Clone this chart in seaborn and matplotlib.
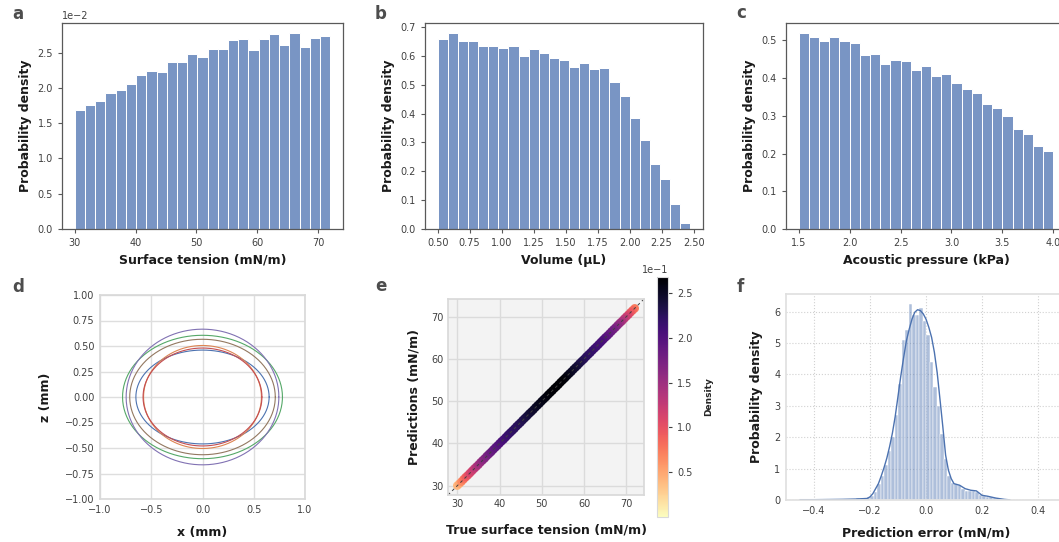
import numpy as np
import matplotlib
matplotlib.use("Agg")
import matplotlib.pyplot as plt
import seaborn as sns
from matplotlib.ticker import ScalarFormatter, MultipleLocator
import matplotlib as mpl

# ---------------- data ----------------
# a: surface tension histogram (density per bin)
surface_tension_range = (30.0, 72.0)
surface_tension_density = [0.0168, 0.0175, 0.0182, 0.0193, 0.0197, 0.0205, 0.0218, 0.0224,
                           0.0223, 0.0237, 0.0237, 0.0248, 0.0244, 0.0255, 0.0255, 0.0268,
                           0.0269, 0.0254, 0.0269, 0.0277, 0.0261, 0.0278, 0.0258, 0.0271, 0.0274]
# b: volume histogram
volume_range = (0.5, 2.475)
volume_density = [0.660, 0.680, 0.650, 0.652, 0.635, 0.635, 0.627, 0.633, 0.600, 0.625,
                  0.610, 0.593, 0.585, 0.560, 0.575, 0.555, 0.558, 0.510, 0.462, 0.383,
                  0.310, 0.226, 0.173, 0.088, 0.021]
# c: acoustic pressure histogram
pressure_range = (1.5, 4.0)
pressure_density = [0.520, 0.508, 0.498, 0.508, 0.497, 0.493, 0.462, 0.463, 0.438, 0.448,
                    0.445, 0.422, 0.433, 0.406, 0.412, 0.387, 0.372, 0.360, 0.330, 0.320,
                    0.300, 0.265, 0.251, 0.219, 0.207]
# d: drop contours (semi-axes in mm)
drop_semi_x = [0.650, 0.575, 0.780, 0.580, 0.745, 0.710]
drop_semi_z = [0.460, 0.505, 0.605, 0.480, 0.665, 0.566]
drop_colors = ["#4c72b0", "#dd8452", "#55a868", "#c44e52", "#8172b3", "#937860"]
# e: predictions vs true with point density
true_tension = [30.0, 30.5, 31.0, 31.5, 32.0, 32.5, 33.0, 33.5, 34.0, 34.5,
                35.0, 35.5, 36.0, 36.5, 37.0, 37.5, 38.0, 38.5, 39.0, 39.5,
                40.0, 40.5, 41.0, 41.5, 42.0, 42.5, 43.0, 43.5, 44.0, 44.5,
                45.0, 45.5, 46.0, 46.5, 47.0, 47.5, 48.0, 48.5, 49.0, 49.5,
                50.0, 50.5, 51.0, 51.5, 52.0, 52.5, 53.0, 53.5, 54.0, 54.5,
                55.0, 55.5, 56.0, 56.5, 57.0, 57.5, 58.0, 58.5, 59.0, 59.5,
                60.0, 60.5, 61.0, 61.5, 62.0, 62.5, 63.0, 63.5, 64.0, 64.5,
                65.0, 65.5, 66.0, 66.5, 67.0, 67.5, 68.0, 68.5, 69.0, 69.5,
                70.0, 70.5, 71.0, 71.5, 72.0]
pred_tension = [30.02, 30.49, 30.98, 31.52, 32.03, 32.48, 32.99, 33.51, 34.02, 34.49,
                34.97, 35.52, 36.01, 36.48, 37.03, 37.51, 37.98, 38.52, 39.02, 39.49,
                40.01, 40.52, 40.97, 41.49, 42.02, 42.51, 42.99, 43.48, 44.03, 44.51,
                44.98, 45.52, 46.01, 46.49, 47.02, 47.48, 47.97, 48.52, 49.01, 49.49,
                50.02, 50.51, 50.98, 51.52, 52.01, 52.49, 53.03, 53.48, 53.98, 54.52,
                55.01, 55.49, 56.02, 56.51, 56.98, 57.52, 58.01, 58.48, 59.02, 59.51,
                59.97, 60.52, 61.01, 61.48, 62.02, 62.51, 62.98, 63.49, 64.01, 64.52,
                65.03, 65.48, 65.98, 66.51, 67.01, 67.49, 68.02, 68.52, 68.97, 69.51,
                70.01, 70.49, 71.02, 71.51, 71.98]
point_density = [0.040, 0.050, 0.065, 0.078, 0.090, 0.100, 0.110, 0.118, 0.125, 0.135,
                 0.145, 0.152, 0.160, 0.166, 0.172, 0.178, 0.184, 0.188, 0.192, 0.196,
                 0.200, 0.204, 0.208, 0.212, 0.215, 0.218, 0.220, 0.222, 0.224, 0.226,
                 0.228, 0.230, 0.233, 0.236, 0.239, 0.242, 0.245, 0.248, 0.251, 0.254,
                 0.256, 0.258, 0.260, 0.262, 0.264, 0.265, 0.266, 0.267, 0.266, 0.265,
                 0.263, 0.260, 0.256, 0.252, 0.248, 0.244, 0.240, 0.236, 0.232, 0.228,
                 0.225, 0.222, 0.220, 0.218, 0.215, 0.212, 0.210, 0.208, 0.205, 0.202,
                 0.195, 0.190, 0.185, 0.180, 0.175, 0.168, 0.160, 0.150, 0.140, 0.130,
                 0.120, 0.108, 0.095, 0.085, 0.075]
density_max = 0.268
# f: prediction error histogram + kde
error_range = (-0.45, 0.30)
error_density = [0.01, 0.01, 0.02, 0.01, 0.01, 0.02, 0.02, 0.01, 0.02, 0.02,
                 0.03, 0.02, 0.03, 0.03, 0.04, 0.04, 0.05, 0.05, 0.06, 0.08,
                 0.12, 0.25, 0.50, 0.75, 1.10, 1.55, 2.00, 2.70, 3.70, 5.10,
                 5.40, 6.25, 5.90, 5.90, 6.10, 5.70, 5.25, 4.40, 3.60, 3.00,
                 2.10, 1.30, 0.75, 0.55, 0.52, 0.48, 0.35, 0.30, 0.28, 0.28,
                 0.25, 0.15, 0.12, 0.10, 0.08, 0.06, 0.04, 0.03, 0.02, 0.01]
kde_x = [-0.45, -0.40, -0.35, -0.30, -0.25, -0.21, -0.20, -0.19, -0.18, -0.17, -0.16, -0.15,
         -0.14, -0.13, -0.12, -0.11, -0.10, -0.09, -0.08, -0.07, -0.06, -0.05, -0.04, -0.03,
         -0.02, -0.01, 0.00, 0.01, 0.02, 0.03, 0.04, 0.05, 0.06, 0.07, 0.08, 0.09, 0.10,
         0.12, 0.14, 0.16, 0.18, 0.19, 0.20, 0.22, 0.25, 0.28, 0.30]
kde_y = [0.01, 0.01, 0.015, 0.02, 0.03, 0.05, 0.10, 0.20, 0.36, 0.52, 0.76, 1.03,
         1.33, 1.70, 2.13, 2.66, 3.30, 3.95, 4.53, 5.07, 5.44, 5.76, 5.98, 6.06,
         6.03, 5.93, 5.76, 5.50, 5.18, 4.70, 4.05, 3.20, 2.34, 1.43, 0.95, 0.68, 0.52,
         0.47, 0.36, 0.31, 0.29, 0.22, 0.15, 0.12, 0.06, 0.02, 0.005]

# ---------------- style ----------------
sns.set_theme(style="ticks")
plt.rcParams["font.family"] = ["DejaVu Sans"]
W, H = 1059, 542
TICK = 7
LAB = 9
BLUE = "#4c72b0"

fig = plt.figure(figsize=(W / 100, H / 100), dpi=100)


def box(l, t, r, b):
    return [l / W, 1 - b / H, (r - l) / W, (b - t) / H]


hist_style = {"axes.edgecolor": "0.35", "xtick.color": "0.35", "ytick.color": "0.35",
              "text.color": "0.2", "axes.labelcolor": "0.1"}


def bin_centers(rng, n):
    edges = np.linspace(rng[0], rng[1], n + 1)
    return list((edges[:-1] + edges[1:]) / 2)


def hist_panel(rect, rng, dens, xlabel):
    with sns.axes_style("ticks", hist_style):
        ax = fig.add_axes(rect)
    n = len(dens)
    sns.histplot(x=bin_centers(rng, n), weights=list(dens), bins=n, binrange=rng,
                 color=BLUE, ax=ax)
    ax.set_xlabel(xlabel, fontsize=LAB, fontweight="bold")
    ax.set_ylabel("Probability density", fontsize=LAB, fontweight="bold")
    ax.tick_params(labelsize=TICK, labelcolor="0.25", length=3, width=0.8)
    for s in ax.spines.values():
        s.set_linewidth(0.9)
    return ax


ax_a = hist_panel(box(62, 23, 343, 229), surface_tension_range, surface_tension_density,
                  "Surface tension (mN/m)")
ax_a.yaxis.set_major_locator(MultipleLocator(0.005))
ax_a.ticklabel_format(axis="y", style="sci", scilimits=(0, 0))
ax_a.yaxis.get_offset_text().set_fontsize(TICK)
ax_a.yaxis.get_offset_text().set_color("0.25")

ax_b = hist_panel(box(425, 23, 703, 229), volume_range, volume_density, "Volume (μL)")
ax_b.xaxis.set_major_locator(MultipleLocator(0.25))

ax_c = hist_panel(box(786, 23, 1066, 229), pressure_range, pressure_density,
                  "Acoustic pressure (kPa)")
ax_c.xaxis.set_major_locator(MultipleLocator(0.5))

# ---------------- d ----------------
grid_style = {"axes.edgecolor": "0.85", "grid.color": "0.87", "xtick.color": "0.25",
              "ytick.color": "0.25", "axes.labelcolor": "0.1"}
with sns.axes_style("whitegrid", grid_style):
    ax_d = fig.add_axes(box(100, 295, 305, 499))
theta = np.linspace(0, 2 * np.pi, 300)
for a_, b_, c_ in zip(drop_semi_x, drop_semi_z, drop_colors):
    sns.lineplot(x=a_ * np.cos(theta), y=b_ * np.sin(theta), sort=False, color=c_,
                 lw=0.8, ax=ax_d, estimator=None)
ax_d.set_xlim(-1, 1)
ax_d.set_ylim(-1, 1)
ax_d.xaxis.set_major_locator(MultipleLocator(0.5))
ax_d.yaxis.set_major_locator(MultipleLocator(0.25))
ax_d.tick_params(labelsize=TICK, length=0, pad=4)
ax_d.set_xlabel("x (mm)", fontsize=LAB, fontweight="bold", labelpad=8)
ax_d.set_ylabel("z (mm)", fontsize=LAB, fontweight="bold", labelpad=9)

# ---------------- e ----------------
e_style = {"axes.facecolor": "#f3f3f3", "axes.edgecolor": "0.85", "grid.color": "0.86",
           "xtick.color": "0.25", "ytick.color": "0.25", "axes.labelcolor": "0.1"}
with sns.axes_style("whitegrid", e_style):
    ax_e = fig.add_axes(box(448, 299, 644, 495))
order = np.argsort(point_density)
sns.scatterplot(x=np.array(true_tension)[order], y=np.array(pred_tension)[order],
                hue=np.array(point_density)[order], palette="magma_r",
                hue_norm=(0, density_max), s=38, linewidth=0, edgecolor="none",
                legend=False, ax=ax_e)
lims = (27.8, 74.2)
ax_e.plot(lims, lims, ls="--", color="0.25", lw=0.7, dashes=(3, 3))
ax_e.set_xlim(lims)
ax_e.set_ylim(lims)
ax_e.xaxis.set_major_locator(MultipleLocator(10))
ax_e.yaxis.set_major_locator(MultipleLocator(10))
ax_e.tick_params(labelsize=TICK, length=0, pad=3)
ax_e.set_xlabel("True surface tension (mN/m)", fontsize=LAB, fontweight="bold", labelpad=10)
ax_e.set_ylabel("Predictions (mN/m)", fontsize=LAB, fontweight="bold", labelpad=8)

cax = fig.add_axes(box(657, 277, 668, 517))
sm = mpl.cm.ScalarMappable(norm=mpl.colors.Normalize(0, density_max), cmap="magma_r")
cb = fig.colorbar(sm, cax=cax)
cb.outline.set_edgecolor("0.85")
cb.outline.set_linewidth(0.8)
fmt = ScalarFormatter(useMathText=False)
fmt.set_powerlimits((0, 0))
cb.ax.yaxis.set_major_formatter(fmt)
cb.set_ticks([0.05, 0.10, 0.15, 0.20, 0.25])
cb.ax.tick_params(labelsize=TICK, length=3, width=0.8, color="0.25", labelcolor="0.25")
cb.ax.yaxis.get_offset_text().set_fontsize(TICK)
cb.ax.yaxis.get_offset_text().set_color("0.25")
cb.set_label("Density", fontsize=6.5, fontweight="bold", labelpad=8)

# ---------------- f ----------------
f_style = {"axes.edgecolor": "0.88", "grid.color": "0.82", "grid.linestyle": ":",
           "xtick.color": "0.25", "ytick.color": "0.25", "axes.labelcolor": "0.1"}
with sns.axes_style("whitegrid", f_style):
    ax_f = fig.add_axes(box(786, 294, 1066, 500))
sns.histplot(x=bin_centers(error_range, len(error_density)), weights=list(error_density),
             bins=len(error_density), binrange=error_range, color=BLUE,
             alpha=0.45, edgecolor="white", linewidth=0.35, ax=ax_f)
sns.lineplot(x=kde_x, y=kde_y, color=BLUE, lw=1.0, ax=ax_f)
ax_f.set_xlim(-0.5, 0.5)
ax_f.set_ylim(0, 6.56)
ax_f.xaxis.set_major_locator(MultipleLocator(0.2))
ax_f.yaxis.set_major_locator(MultipleLocator(1))
ax_f.grid(True, ls=":", lw=0.8)
ax_f.tick_params(labelsize=TICK, length=0, pad=4)
ax_f.set_xlabel("Prediction error (mN/m)", fontsize=LAB, fontweight="bold", labelpad=8)
ax_f.set_ylabel("Probability density", fontsize=LAB, fontweight="bold", labelpad=8)

# panel letters
for lbl, x, y in [("a", 12, 19), ("b", 375, 19), ("c", 736, 18),
                  ("d", 12, 292), ("e", 375, 291), ("f", 737, 292)]:
    fig.text(x / W, 1 - y / H, lbl, fontsize=12, fontweight="bold", color="0.3",
             va="baseline", ha="left")

fig.savefig("out.png", dpi=100)
